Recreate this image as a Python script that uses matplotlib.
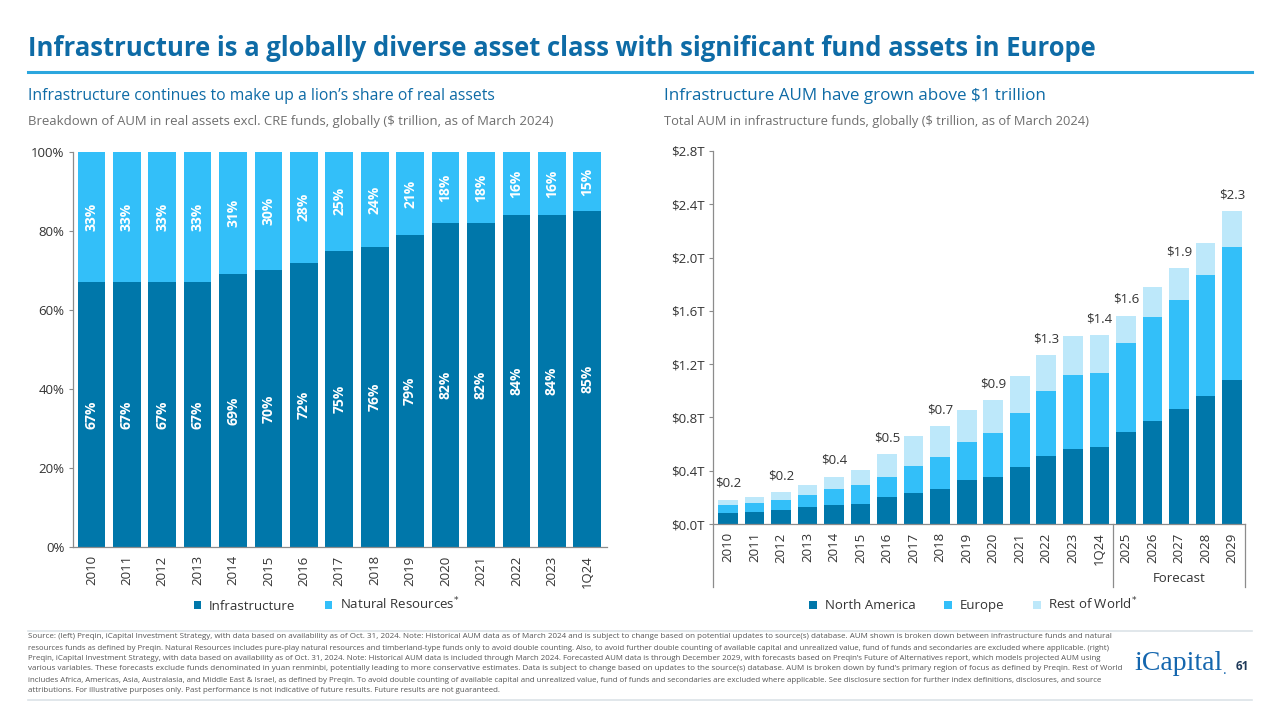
import matplotlib
matplotlib.use("Agg")
import matplotlib.pyplot as plt
from matplotlib.ticker import FuncFormatter, MultipleLocator
import numpy as np

plt.rcParams['font.family'] = ['Open Sans', 'DejaVu Sans']

# ---------------- data ----------------
left_years = ["2010", "2011", "2012", "2013", "2014", "2015", "2016", "2017",
              "2018", "2019", "2020", "2021", "2022", "2023", "1Q24"]
infra_pct = [67, 67, 67, 67, 69, 70, 72, 75, 76, 79, 82, 82, 84, 84, 85]
natres_pct = [33, 33, 33, 33, 31, 30, 28, 25, 24, 21, 18, 18, 16, 16, 15]

right_years = ["2010", "2011", "2012", "2013", "2014", "2015", "2016", "2017",
               "2018", "2019", "2020", "2021", "2022", "2023", "1Q24",
               "2025", "2026", "2027", "2028", "2029"]
north_america = [0.083, 0.09, 0.105, 0.125, 0.14, 0.15, 0.20, 0.23, 0.265, 0.33,
                 0.35, 0.43, 0.51, 0.56, 0.58, 0.69, 0.77, 0.86, 0.96, 1.08]
europe = [0.06, 0.065, 0.075, 0.095, 0.12, 0.14, 0.15, 0.205, 0.235, 0.285,
          0.33, 0.405, 0.49, 0.56, 0.555, 0.665, 0.785, 0.825, 0.91, 1.00]
rest_of_world = [0.04, 0.045, 0.06, 0.07, 0.095, 0.115, 0.175, 0.225, 0.235, 0.24,
                 0.25, 0.275, 0.27, 0.29, 0.285, 0.21, 0.225, 0.235, 0.24, 0.27]
total_label_idx = [0, 2, 4, 6, 8, 10, 12, 14, 15, 17, 19]
total_label_txt = ["$0.2", "$0.2", "$0.4", "$0.5", "$0.7", "$0.9", "$1.3", "$1.4",
                   "$1.6", "$1.9", "$2.3"]

# ---------------- style ----------------
C_DARK = "#0077AA"
C_MID = "#33BFF9"
C_LIGHT = "#BDE8FA"
C_TITLE = "#0E6BA6"
C_GRAY_TXT = "#6E6E6E"
C_TXT = "#333333"
C_AXIS = "#8C8C8C"

W, H = 1280, 720
fig = plt.figure(figsize=(12.8, 7.2), dpi=100)
renderer = fig.canvas.get_renderer()


def px(x, y):
    return x / W, 1 - y / H


def fit_width(t, target_px):
    bb = t.get_window_extent(renderer)
    t.set_fontsize(t.get_fontsize() * target_px / bb.width)


# ---------------- header ----------------
t = fig.text(*px(28, 48), "Infrastructure is a globally diverse asset class with significant fund assets in Europe",
             fontsize=18, fontweight="bold", color=C_TITLE, va="center", ha="left")
fit_width(t, 1069)
fig.add_artist(plt.Line2D([28 / W, 1252 / W], [1 - 72 / H] * 2, color="#2BA6DE", lw=2.2))

t = fig.text(*px(28, 96), "Infrastructure continues to make up a lion\u2019s share of real assets",
             fontsize=11, color=C_TITLE, va="center", ha="left")
fit_width(t, 465)
t = fig.text(*px(28, 121), "Breakdown of AUM in real assets excl. CRE funds, globally ($ trillion, as of March 2024)",
             fontsize=9, color=C_GRAY_TXT, va="center", ha="left")
fit_width(t, 528)
t = fig.text(*px(664, 96), "Infrastructure AUM have grown above $1 trillion",
             fontsize=11, color=C_TITLE, va="center", ha="left")
fit_width(t, 383)
t = fig.text(*px(664, 121), "Total AUM in infrastructure funds, globally ($ trillion, as of March 2024)",
             fontsize=9, color=C_GRAY_TXT, va="center", ha="left")
fit_width(t, 426)

# ---------------- left chart ----------------
axL = fig.add_axes([73 / W, 1 - 547 / H, 534 / W, 395 / H])
xl = np.arange(len(left_years))
bw = 0.78
b1 = axL.bar(xl, infra_pct, bw, color=C_DARK, label="Infrastructure")
b2 = axL.bar(xl, natres_pct, bw, bottom=infra_pct, color=C_MID, label="Natural Resources$^{*}$")
for i in range(len(left_years)):
    axL.text(xl[i], infra_pct[i] / 2, f"{infra_pct[i]}%", rotation=90, ha="center", va="center",
             color="white", fontsize=10, fontweight="bold")
    axL.text(xl[i], infra_pct[i] + natres_pct[i] / 2, f"{natres_pct[i]}%", rotation=90, ha="center",
             va="center", color="white", fontsize=10, fontweight="bold")
axL.set_xlim(-0.52, 14.56)
axL.set_ylim(0, 100)
axL.yaxis.set_major_locator(MultipleLocator(20))
axL.yaxis.set_major_formatter(FuncFormatter(lambda v, p: f"{v:.0f}%"))
axL.set_xticks(xl)
axL.set_xticklabels(left_years, rotation=90, fontsize=9.5, color=C_TXT)
axL.tick_params(axis="x", length=0, pad=6)
axL.tick_params(axis="y", length=3, color=C_AXIS, labelsize=9.5, labelcolor=C_TXT, pad=3)
for s in ["top", "right"]:
    axL.spines[s].set_visible(False)
for s in ["left", "bottom"]:
    axL.spines[s].set_color(C_AXIS)
    axL.spines[s].set_linewidth(0.9)
axL.legend(handles=[b1, b2], loc="center", bbox_to_anchor=(0.475, -0.145), ncol=2, frameon=False,
           fontsize=9.5, handlelength=0.55, handleheight=0.55, handletextpad=0.6, columnspacing=2.2,
           labelcolor=C_TXT)

# ---------------- right chart ----------------
axR = fig.add_axes([713 / W, 1 - 524 / H, 532 / W, 373 / H])
xr = np.arange(len(right_years))
bwr = 0.74
na = np.array(north_america)
eu = np.array(europe)
rw = np.array(rest_of_world)
r1 = axR.bar(xr, na, bwr, color=C_DARK, label="North America")
r2 = axR.bar(xr, eu, bwr, bottom=na, color=C_MID, label="Europe")
r3 = axR.bar(xr, rw, bwr, bottom=na + eu, color=C_LIGHT, label="Rest of World$^{*}$")
totals = na + eu + rw
for i, lab in zip(total_label_idx, total_label_txt):
    axR.annotate(lab, (xr[i], totals[i]), xytext=(0, 7), textcoords="offset points",
                 ha="center", va="bottom", fontsize=9.5, color=C_TXT)
axR.set_xlim(-0.565, 19.49)
axR.set_ylim(0, 2.8)
axR.yaxis.set_major_locator(MultipleLocator(0.4))
axR.yaxis.set_major_formatter(FuncFormatter(lambda v, p: f"${v:.1f}T"))
axR.set_xticks(xr)
axR.set_xticklabels(right_years, rotation=90, fontsize=9.5, color=C_TXT)
axR.tick_params(axis="x", length=0, pad=6)
axR.tick_params(axis="y", length=3, color=C_AXIS, labelsize=9.5, labelcolor=C_TXT, pad=3)
for s in ["top", "right"]:
    axR.spines[s].set_visible(False)
for s in ["left", "bottom"]:
    axR.spines[s].set_color(C_AXIS)
    axR.spines[s].set_linewidth(0.9)
trans = axR.get_xaxis_transform()
y_low = -(587 - 524) / 373
for xv in [-0.565, 14.5, 19.49]:
    axR.plot([xv, xv], [0, y_low], transform=trans, clip_on=False, color=C_AXIS, lw=0.9)
axR.text(17, -(579 - 524) / 373, "Forecast", transform=trans, ha="center", va="center",
         fontsize=9.5, color=C_TXT)
axR.legend(handles=[r1, r2, r3], loc="center", bbox_to_anchor=(0.49, -(604 - 524) / 373), ncol=3,
           frameon=False, fontsize=9.5, handlelength=0.55, handleheight=0.55, handletextpad=0.6,
           columnspacing=2.2, labelcolor=C_TXT)

# ---------------- footer ----------------
fig.add_artist(plt.Line2D([28 / W, 1252 / W], [1 - 631 / H] * 2, color="#DCE3E8", lw=1.2))
fig.add_artist(plt.Line2D([28 / W, 1252 / W], [1 - 700 / H] * 2, color="#DCE3E8", lw=1.2))
footer = [
    "Source: (left) Preqin, iCapital Investment Strategy, with data based on availability as of Oct. 31, 2024. Note: Historical AUM data as of March 2024 and is subject to change based on potential updates to source(s) database. AUM shown is broken down between infrastructure funds and natural",
    "resources funds as defined by Preqin. Natural Resources includes pure-play natural resources and timberland-type funds only to avoid double counting. Also, to avoid further double counting of available capital and unrealized value, fund of funds and secondaries are excluded where applicable. (right)",
    "Preqin, iCapital Investment Strategy, with data based on availability as of Oct. 31, 2024. Note: Historical AUM data is included through March 2024. Forecasted AUM data is through December 2029, with forecasts based on Preqin\u2019s Future of Alternatives report, which models projected AUM using",
    "various variables. These forecasts exclude funds denominated in yuan renminbi, potentially leading to more conservative estimates. Data is subject to change based on updates to the source(s) database. AUM is broken down by fund\u2019s primary region of focus as defined by Preqin. Rest of World",
    "includes Africa, Americas, Asia, Australasia, and Middle East & Israel, as defined by Preqin. To avoid double counting of available capital and unrealized value, fund of funds and secondaries are excluded where applicable. See disclosure section for further index definitions, disclosures, and source",
    "attributions. For illustrative purposes only. Past performance is not indicative of future results. Future results are not guaranteed.",
]
ys = [637, 648, 658.5, 669, 680, 690.5]
ft = []
for line, y in zip(footer, ys):
    ft.append(fig.text(*px(28, y), line, fontsize=5.3, color="#555555", va="center", ha="left"))
for t in ft[:-1]:
    fit_width(t, 1085)
sizes = [t.get_fontsize() for t in ft[:-1]]
ft[-1].set_fontsize(float(np.median(sizes)))

t = fig.text(*px(1134, 664), "iCapital", fontsize=20, color="#1466AE", va="center", ha="left",
             family=["Liberation Serif"])
fit_width(t, 88)
fig.text(*px(1223, 670), ".", fontsize=10, color="#1466AE", va="center", ha="left")
fig.text(*px(1236, 667), "61", fontsize=8.5, fontweight="bold", color="#1F3A5A", va="center", ha="left")

fig.savefig("out.png", dpi=100)
